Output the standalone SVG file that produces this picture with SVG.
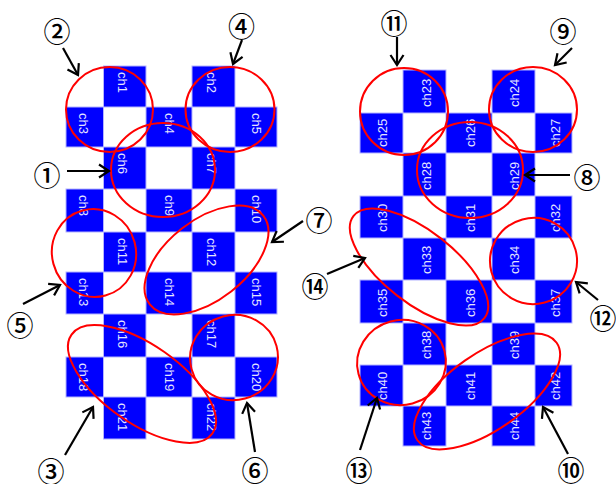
<svg xmlns="http://www.w3.org/2000/svg" width="616" height="484" viewBox="0 0 616 484">
<defs>
<style>
.c{fill:#0000ff;stroke:#b4b4ff;stroke-width:1}
.t{font-family:"Liberation Sans",Arial,sans-serif;font-size:13px;fill:#e4e4ff;dominant-baseline:central}
.e{fill:none;stroke:#ff0000;stroke-width:2}
.a{fill:none;stroke:#000;stroke-width:2.2}
.n{font-family:"Noto Sans CJK JP","DejaVu Sans",sans-serif;font-size:27px;font-weight:500;fill:#000;text-anchor:middle;dominant-baseline:central}
</style>
<marker id="ah" markerUnits="userSpaceOnUse" markerWidth="16" markerHeight="16" refX="12" refY="8" orient="auto">
<path d="M2,1.5 L12,8 L2,14.5" fill="none" stroke="#000" stroke-width="2.2"/>
</marker>
</defs>
<rect width="616" height="484" fill="#fff"/>

<g id="board-left">
<g id="ch1"><rect class="c" x="103.5" y="66" width="42.5" height="41"/><text class="t" transform="translate(122,72) rotate(90)">ch1</text></g>
<g id="ch2"><rect class="c" x="192" y="66" width="43" height="41"/><text class="t" transform="translate(211,72) rotate(90)">ch2</text></g>
<g id="ch3"><rect class="c" x="66" y="107" width="37.5" height="40"/><text class="t" transform="translate(83,113) rotate(90)">ch3</text></g>
<g id="ch4"><rect class="c" x="146" y="107" width="46" height="40"/><text class="t" transform="translate(169,113) rotate(90)">ch4</text></g>
<g id="ch5"><rect class="c" x="235" y="107" width="42" height="40"/><text class="t" transform="translate(256,113) rotate(90)">ch5</text></g>
<g id="ch6"><rect class="c" x="103.5" y="147" width="42.5" height="42"/><text class="t" transform="translate(122,153) rotate(90)">ch6</text></g>
<g id="ch7"><rect class="c" x="192" y="147" width="43" height="42"/><text class="t" transform="translate(211,153) rotate(90)">ch7</text></g>
<g id="ch8"><rect class="c" x="66" y="189" width="37.5" height="43"/><text class="t" transform="translate(83,195) rotate(90)">ch8</text></g>
<g id="ch9"><rect class="c" x="146" y="189" width="46" height="43"/><text class="t" transform="translate(169,195) rotate(90)">ch9</text></g>
<g id="ch10"><rect class="c" x="235" y="189" width="42" height="43"/><text class="t" transform="translate(256,195) rotate(90)">ch10</text></g>
<g id="ch11"><rect class="c" x="103.5" y="232" width="42.5" height="40"/><text class="t" transform="translate(122,238) rotate(90)">ch11</text></g>
<g id="ch12"><rect class="c" x="192" y="232" width="43" height="40"/><text class="t" transform="translate(211,238) rotate(90)">ch12</text></g>
<g id="ch13"><rect class="c" x="66" y="272" width="37.5" height="42"/><text class="t" transform="translate(83,278) rotate(90)">ch13</text></g>
<g id="ch14"><rect class="c" x="146" y="272" width="46" height="42"/><text class="t" transform="translate(169,278) rotate(90)">ch14</text></g>
<g id="ch15"><rect class="c" x="235" y="272" width="42" height="42"/><text class="t" transform="translate(256,278) rotate(90)">ch15</text></g>
<g id="ch16"><rect class="c" x="103.5" y="314" width="42.5" height="43"/><text class="t" transform="translate(122,320) rotate(90)">ch16</text></g>
<g id="ch17"><rect class="c" x="192" y="314" width="43" height="43"/><text class="t" transform="translate(211,320) rotate(90)">ch17</text></g>
<g id="ch18"><rect class="c" x="66" y="357" width="37.5" height="40"/><text class="t" transform="translate(83,363) rotate(90)">ch18</text></g>
<g id="ch19"><rect class="c" x="146" y="357" width="46" height="40"/><text class="t" transform="translate(169,363) rotate(90)">ch19</text></g>
<g id="ch20"><rect class="c" x="235" y="357" width="42" height="40"/><text class="t" transform="translate(256,363) rotate(90)">ch20</text></g>
<g id="ch21"><rect class="c" x="103.5" y="397" width="42.5" height="42"/><text class="t" transform="translate(122,403) rotate(90)">ch21</text></g>
<g id="ch22"><rect class="c" x="192" y="397" width="43" height="42"/><text class="t" transform="translate(211,403) rotate(90)">ch22</text></g>
</g>

<g id="board-right">
<g id="ch23"><rect class="c" x="403" y="70" width="43" height="43"/><text class="t" transform="translate(426,107) rotate(-90)">ch23</text></g>
<g id="ch24"><rect class="c" x="492" y="70" width="43" height="43"/><text class="t" transform="translate(514,107) rotate(-90)">ch24</text></g>
<g id="ch25"><rect class="c" x="360" y="113" width="43" height="40"/><text class="t" transform="translate(382,147) rotate(-90)">ch25</text></g>
<g id="ch26"><rect class="c" x="446" y="113" width="46" height="40"/><text class="t" transform="translate(470,147) rotate(-90)">ch26</text></g>
<g id="ch27"><rect class="c" x="535" y="113" width="37" height="40"/><text class="t" transform="translate(555,147) rotate(-90)">ch27</text></g>
<g id="ch28"><rect class="c" x="403" y="153" width="43" height="43"/><text class="t" transform="translate(426,190) rotate(-90)">ch28</text></g>
<g id="ch29"><rect class="c" x="492" y="153" width="43" height="43"/><text class="t" transform="translate(514,190) rotate(-90)">ch29</text></g>
<g id="ch30"><rect class="c" x="360" y="196" width="43" height="42"/><text class="t" transform="translate(382,232) rotate(-90)">ch30</text></g>
<g id="ch31"><rect class="c" x="446" y="196" width="46" height="42"/><text class="t" transform="translate(470,232) rotate(-90)">ch31</text></g>
<g id="ch32"><rect class="c" x="535" y="196" width="37" height="42"/><text class="t" transform="translate(555,232) rotate(-90)">ch32</text></g>
<g id="ch33"><rect class="c" x="403" y="238" width="43" height="42"/><text class="t" transform="translate(426,274) rotate(-90)">ch33</text></g>
<g id="ch34"><rect class="c" x="492" y="238" width="43" height="42"/><text class="t" transform="translate(514,274) rotate(-90)">ch34</text></g>
<g id="ch35"><rect class="c" x="360" y="280" width="43" height="43"/><text class="t" transform="translate(382,317) rotate(-90)">ch35</text></g>
<g id="ch36"><rect class="c" x="446" y="280" width="46" height="43"/><text class="t" transform="translate(470,317) rotate(-90)">ch36</text></g>
<g id="ch37"><rect class="c" x="535" y="280" width="37" height="43"/><text class="t" transform="translate(555,317) rotate(-90)">ch37</text></g>
<g id="ch38"><rect class="c" x="403" y="323" width="43" height="42"/><text class="t" transform="translate(426,359) rotate(-90)">ch38</text></g>
<g id="ch39"><rect class="c" x="492" y="323" width="43" height="42"/><text class="t" transform="translate(514,359) rotate(-90)">ch39</text></g>
<g id="ch40"><rect class="c" x="360" y="365" width="43" height="41"/><text class="t" transform="translate(382,400) rotate(-90)">ch40</text></g>
<g id="ch41"><rect class="c" x="446" y="365" width="46" height="41"/><text class="t" transform="translate(470,400) rotate(-90)">ch41</text></g>
<g id="ch42"><rect class="c" x="535" y="365" width="37" height="41"/><text class="t" transform="translate(555,400) rotate(-90)">ch42</text></g>
<g id="ch43"><rect class="c" x="403" y="406" width="43" height="40"/><text class="t" transform="translate(426,440) rotate(-90)">ch43</text></g>
<g id="ch44"><rect class="c" x="492" y="406" width="43" height="40"/><text class="t" transform="translate(514,440) rotate(-90)">ch44</text></g>
</g>

<g id="groups">
<ellipse id="g1" class="e" cx="163" cy="170" rx="52" ry="47"/>
<ellipse id="g2" class="e" cx="109.5" cy="109.5" rx="43.5" ry="42.5"/>
<ellipse id="g3" class="e" cx="142" cy="384" rx="86" ry="39" transform="rotate(35 142 384)"/>
<ellipse id="g4" class="e" cx="230" cy="109.5" rx="44.5" ry="42.5"/>
<ellipse id="g5" class="e" cx="94" cy="253" rx="42" ry="44" transform="rotate(-15 94 253)"/>
<ellipse id="g6" class="e" cx="234" cy="357.5" rx="44" ry="42.5" transform="rotate(-15 234 357.5)"/>
<ellipse id="g7" class="e" cx="206.5" cy="260" rx="72" ry="40" transform="rotate(-38 206.5 260)"/>
<ellipse id="g8" class="e" cx="470" cy="170" rx="53" ry="48"/>
<ellipse id="g9" class="e" cx="533" cy="109.5" rx="44" ry="42.5"/>
<ellipse id="g10" class="e" cx="487" cy="391.5" rx="85" ry="38" transform="rotate(-35 487 391.5)"/>
<ellipse id="g11" class="e" cx="404" cy="111.5" rx="44" ry="43.5"/>
<ellipse id="g12" class="e" cx="533.5" cy="261" rx="43.5" ry="43" transform="rotate(-15 533.5 261)"/>
<ellipse id="g13" class="e" cx="401.5" cy="362.5" rx="44.5" ry="42.5" transform="rotate(-15 401.5 362.5)"/>
<ellipse id="g14" class="e" cx="419" cy="267" rx="83" ry="36" transform="rotate(38 419 267)"/>
</g>

<g id="connectors">
<line class="a" x1="67" y1="171" x2="109" y2="171" marker-end="url(#ah)"/>
<line class="a" x1="63" y1="48" x2="78" y2="75" marker-end="url(#ah)"/>
<line class="a" x1="65" y1="455" x2="93" y2="407" marker-end="url(#ah)"/>
<line class="a" x1="242" y1="40" x2="233" y2="64" marker-end="url(#ah)"/>
<line class="a" x1="23" y1="304" x2="60" y2="285" marker-end="url(#ah)"/>
<line class="a" x1="255" y1="452" x2="247" y2="403" marker-end="url(#ah)"/>
<line class="a" x1="303" y1="221" x2="272" y2="242" marker-end="url(#ah)"/>
<line class="a" x1="570" y1="175" x2="525" y2="175" marker-end="url(#ah)"/>
<line class="a" x1="572" y1="48" x2="555" y2="65" marker-end="url(#ah)"/>
<line class="a" x1="568" y1="454" x2="543" y2="407" marker-end="url(#ah)"/>
<line class="a" x1="397" y1="37" x2="397" y2="65" marker-end="url(#ah)"/>
<line class="a" x1="598" y1="300" x2="576" y2="282" marker-end="url(#ah)"/>
<line class="a" x1="360" y1="450" x2="377" y2="398" marker-end="url(#ah)"/>
<line class="a" x1="327" y1="274" x2="365" y2="258" marker-end="url(#ah)"/>
</g>

<g id="labels">
<text class="n" x="47" y="174">①</text>
<text class="n" x="57" y="30">②</text>
<text class="n" x="51" y="470">③</text>
<text class="n" x="241.5" y="25">④</text>
<text class="n" x="20" y="324">⑤</text>
<text class="n" x="255" y="469">⑥</text>
<text class="n" x="319" y="219">⑦</text>
<text class="n" x="587" y="176">⑧</text>
<text class="n" x="563" y="30">⑨</text>
<text class="n" x="571" y="469">⑩</text>
<text class="n" x="394" y="22">⑪</text>
<text class="n" x="603" y="317">⑫</text>
<text class="n" x="359" y="469">⑬</text>
<text class="n" x="315" y="285">⑭</text>
</g>
</svg>
